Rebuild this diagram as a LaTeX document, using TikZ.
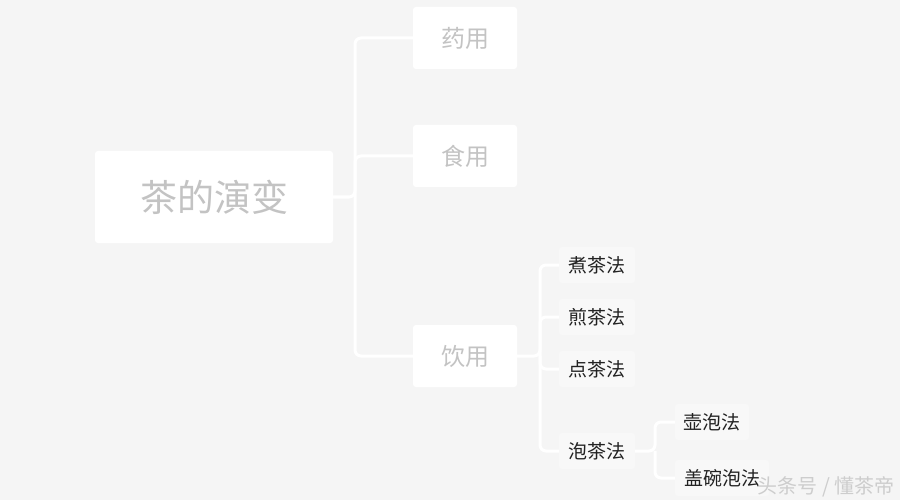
\documentclass[tikz,border=0pt]{standalone}
\usepackage{fontspec}
\newfontfamily\cjk{Noto Sans CJK SC}
\definecolor{bg}{RGB}{245,245,245}
\definecolor{lighttext}{RGB}{195,195,195}
\definecolor{darktext}{RGB}{34,34,34}
\definecolor{wm}{RGB}{205,205,205}
\begin{document}
\begin{tikzpicture}[x=1pt,y=-1pt,
  rootbox/.style={fill=white, rounded corners=3pt, inner sep=0pt, text=lighttext,
    minimum width=238pt, minimum height=92pt, font=\cjk\fontsize{37}{40}\selectfont},
  midbox/.style={fill=white, rounded corners=3pt, inner sep=0pt, text=lighttext,
    minimum width=104pt, minimum height=62pt, font=\cjk\fontsize{24}{28}\selectfont},
  leafbox/.style={fill=white, fill opacity=0.3, text opacity=1, rounded corners=3pt, inner sep=0pt,
    text=darktext, minimum height=36pt, font=\cjk\fontsize{19}{22}\selectfont},
  con/.style={draw=white, line width=3pt, rounded corners=6pt}]
\fill[bg] (0,0) rectangle (900,500);
\useasboundingbox (0,0) rectangle (900,500);
\coordinate (j1) at (355,197);
\coordinate (j2) at (540,356);
\coordinate (j3) at (655,451);
\node[rootbox] (root) at (214,197) {茶的演变};
\node[midbox] (yao) at (465,38) {药用};
\node[midbox] (shi) at (465,156) {食用};
\node[midbox] (yin) at (465,356) {饮用};
\node[leafbox, minimum width=76pt] (zhu) at (597,265) {煮茶法};
\node[leafbox, minimum width=76pt] (jian) at (597,317) {煎茶法};
\node[leafbox, minimum width=76pt] (dian) at (597,369) {点茶法};
\node[leafbox, minimum width=76pt] (pao) at (597,451) {泡茶法};
\node[leafbox, minimum width=74pt] (hu) at (712,422) {壶泡法};
\node[leafbox, minimum width=94pt] (gai) at (722,478) {盖碗泡法};
\draw[con] (root.east) -- (j1) |- (yao.west);
\draw[con] (j1) |- (shi.west);
\draw[con] (j1) |- (yin.west);
\draw[con] (yin.east) -- (j2) |- (zhu.west);
\draw[con] (j2) |- (jian.west);
\draw[con] (j2) |- (dian.west);
\draw[con] (j2) |- (pao.west);
\draw[con] (pao.east) -- (j3) |- (hu.west);
\draw[con] (j3) |- (gai.west);
\node[text=wm, font=\cjk\fontsize{20}{22}\selectfont, inner sep=0pt] (wmark) at (826,487) {头条号 / 懂茶帝};
\end{tikzpicture}
\end{document}
